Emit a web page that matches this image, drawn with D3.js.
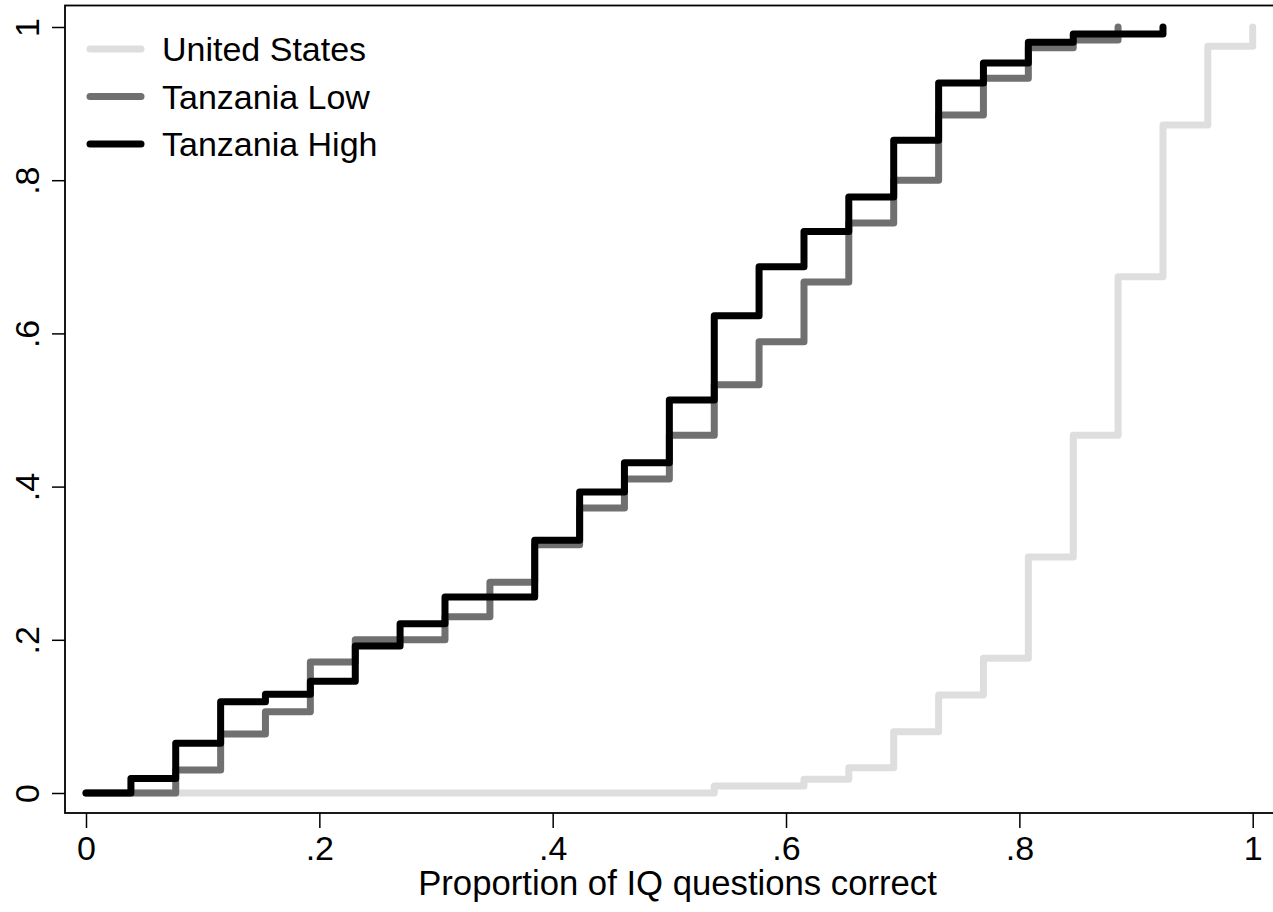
<!DOCTYPE html>
<html>
<head>
<meta charset="utf-8">
<script src="https://cdn.jsdelivr.net/npm/d3@7"></script>
<style>
  html, body { margin: 0; padding: 0; background: #fff; }
  svg { display: block; }
  text { font-family: "Liberation Sans", Arial, Helvetica, sans-serif; fill: #000; }
</style>
</head>
<body>
<svg id="chart" width="1273" height="912"></svg>
<script>
// Step positions: proportion of IQ questions correct (k/26)
const xSteps = [0, 0.0385, 0.0769, 0.1154, 0.1538, 0.1923, 0.2308, 0.2692, 0.3077, 0.3462,
  0.3846, 0.4231, 0.4615, 0.5, 0.5385, 0.5769, 0.6154, 0.6538, 0.6923, 0.7308,
  0.7692, 0.8077, 0.8462, 0.8846, 0.9231, 0.9615, 1.0];

// Cumulative proportions at each step
const usValues = [0, 0, 0, 0, 0, 0, 0, 0, 0, 0, 0, 0, 0, 0,
  0.009, 0.009, 0.018, 0.033, 0.080, 0.128, 0.176, 0.308, 0.467, 0.674, 0.872, 0.975, 1.0];
const lowValues = [0, 0, 0.030, 0.077, 0.106, 0.171, 0.200, 0.200, 0.230, 0.275,
  0.324, 0.372, 0.410, 0.467, 0.533, 0.589, 0.667, 0.744, 0.800, 0.885,
  0.933, 0.973, 0.983, 1.0];
const highValues = [0, 0.019, 0.065, 0.119, 0.129, 0.146, 0.192, 0.221, 0.256, 0.256,
  0.330, 0.393, 0.431, 0.513, 0.623, 0.687, 0.733, 0.778, 0.852, 0.927,
  0.953, 0.980, 0.991, 0.991, 1.0];

const seriesNames = ["United States", "Tanzania Low", "Tanzania High"];
const seriesColors = ["#dedede", "#707070", "#000000"];

const xTicks = [0, 0.2, 0.4, 0.6, 0.8, 1];
const xTickLabels = ["0", ".2", ".4", ".6", ".8", "1"];
const yTicks = [0, 0.2, 0.4, 0.6, 0.8, 1];
const yTickLabels = ["0", ".2", ".4", ".6", ".8", "1"];
const xTitle = "Proportion of IQ questions correct";

const svg = d3.select("#chart");
const FS = 34;

const frame = { left: 65, top: 5.5, right: 1276, bottom: 813 };
const x = d3.scaleLinear().domain([0, 1]).range([86, 1252.7]);
const y = d3.scaleLinear().domain([0, 1]).range([793, 27]);

// Plot frame
svg.append("rect")
  .attr("x", frame.left).attr("y", frame.top)
  .attr("width", frame.right - frame.left).attr("height", frame.bottom - frame.top)
  .attr("fill", "none").attr("stroke", "#000").attr("stroke-width", 1.8);

// Y axis
const yAxis = d3.axisLeft(y).tickValues(yTicks).tickSize(13).tickFormat((d, i) => yTickLabels[i]);
const gy = svg.append("g").attr("transform", `translate(${frame.left},0)`).call(yAxis);
gy.select(".domain").remove();
gy.selectAll(".tick line").attr("stroke", "#000").attr("stroke-width", 1.5);
gy.selectAll(".tick text")
  .attr("x", 0).attr("y", 0).attr("dy", null)
  .attr("transform", `translate(${39 - frame.left},0) rotate(-90)`)
  .attr("text-anchor", "middle")
  .style("font-size", FS + "px")
  .style("font-family", '"Liberation Sans", Arial, sans-serif')
  .attr("fill", "#000");

// X axis
const xAxis = d3.axisBottom(x).tickValues(xTicks).tickSize(15).tickFormat((d, i) => xTickLabels[i]);
const gx = svg.append("g").attr("transform", `translate(0,${frame.bottom})`).call(xAxis);
gx.select(".domain").remove();
gx.selectAll(".tick line").attr("stroke", "#000").attr("stroke-width", 1.5);
gx.selectAll(".tick text")
  .attr("y", 47).attr("dy", null)
  .style("font-size", FS + "px")
  .style("font-family", '"Liberation Sans", Arial, sans-serif')
  .attr("fill", "#000");

svg.append("text")
  .attr("x", (418 + 937) / 2).attr("y", 895)
  .attr("text-anchor", "middle")
  .style("font-size", "34.7px")
  .text(xTitle);

// Step lines
const line = d3.line()
  .x(d => x(d[0]))
  .y(d => y(d[1]))
  .curve(d3.curveStepAfter);

const allSeries = [usValues, lowValues, highValues];
allSeries.forEach((vals, i) => {
  const pts = vals.map((v, k) => [xSteps[k], v]);
  svg.append("path")
    .datum(pts)
    .attr("d", line)
    .attr("fill", "none")
    .attr("stroke", seriesColors[i])
    .attr("stroke-width", 7)
    .attr("stroke-linejoin", "round")
    .attr("stroke-linecap", "round");
});

// Legend
const legendY = [49, 96.5, 144];
seriesNames.forEach((name, i) => {
  svg.append("line")
    .attr("x1", 90).attr("x2", 141)
    .attr("y1", legendY[i]).attr("y2", legendY[i])
    .attr("stroke", seriesColors[i])
    .attr("stroke-width", 7)
    .attr("stroke-linecap", "round");
  svg.append("text")
    .attr("x", 162).attr("y", legendY[i] + 12)
    .style("font-size", FS + "px")
    .text(name);
});
</script>
</body>
</html>
